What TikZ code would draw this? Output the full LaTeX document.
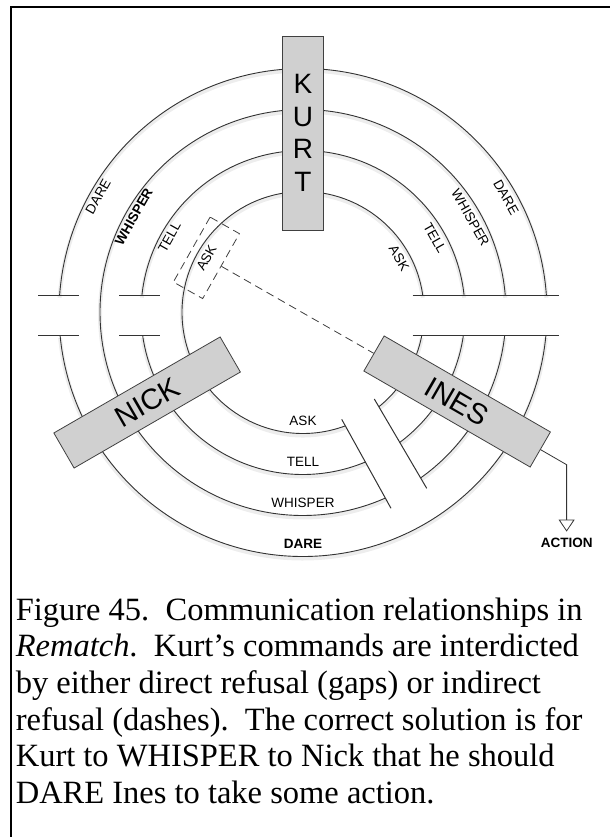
\documentclass[tikz,border=0pt]{standalone}
\usepackage{fontspec}
\setmainfont{Liberation Serif}
\setsansfont{Liberation Sans}
\usepackage{tikz}
\usetikzlibrary{calc,arrows.meta}
\definecolor{boxgray}{RGB}{208,208,208}
\tikzset{
  ring/.style={draw=black!80, line width=0.9pt, preaction={draw=black!7, line width=4pt, transform canvas={yshift=-2pt}}},
  cut/.style={draw=black!80, line width=1pt},
  lbl/.style={font=\sffamily\fontsize{13.5}{16}\selectfont, inner sep=1pt},
  lblb/.style={font=\sffamily\bfseries\fontsize{13.5}{16}\selectfont, inner sep=1pt},
  agent/.style={draw=black!75, fill=boxgray, line width=0.8pt, font=\sffamily\fontsize{29}{33}\selectfont, inner sep=0pt},
  refuse/.style={draw=black!75, line width=0.8pt, dash pattern=on 8pt off 5pt},
}
\newcommand{\gapup}{16.8}
\newcommand{\gapdn}{23.5}

\begin{document}
\begin{tikzpicture}[x=1pt,y=1pt]
    \useasboundingbox (-303,-524.5) rectangle (307,312.5);
    \draw[line width=2pt] (-292,-524.5) -- (-292,305.8) -- (307,305.8);

    \draw[ring] ({asin(\gapup/244)}:244) arc[start angle={asin(\gapup/244)}, end angle={180-asin(\gapup/244)}, radius=244];
    \draw[ring] ({180+asin(\gapdn/244)}:244) arc[start angle={180+asin(\gapdn/244)}, end angle={360-asin(\gapdn/244)}, radius=244];
    \draw[ring] ({asin(\gapup/203)}:203) arc[start angle={asin(\gapup/203)}, end angle={360-asin(\gapdn/203)}, radius=203];
    \draw[ring] ({asin(\gapup/162)}:162) arc[start angle={asin(\gapup/162)}, end angle={180-asin(\gapup/162)}, radius=162];
    \draw[ring] ({180+asin(\gapdn/162)}:162) arc[start angle={180+asin(\gapdn/162)}, end angle={360-asin(\gapdn/162)}, radius=162];
    \draw[ring] ({asin(\gapup/121)}:121) arc[start angle={asin(\gapup/121)}, end angle={360-asin(\gapdn/121)}, radius=121];

    \coordinate (cutA1) at (38.7,-106.8);
    \coordinate (cutA2) at (88,-195.8);
    \coordinate (cutB1) at (71.3,-86.5);
    \coordinate (cutB2) at (123.7,-175.8);
    \fill[white] (cutA1) -- (cutA2) -- (cutB2) -- (cutB1) -- cycle;
    \draw[cut] (cutA1) -- (cutA2);
    \draw[cut] (cutB1) -- (cutB2);

    \draw[cut] (-264.7,\gapup) -- (-224,\gapup);
    \draw[cut] (-264.7,-\gapdn) -- (-224,-\gapdn);
    \draw[cut] (-183.7,\gapup) -- (-143,\gapup);
    \draw[cut] (-183.7,-\gapdn) -- (-143,-\gapdn);
    \draw[cut] (109.7,\gapup) -- (256.3,\gapup);
    \draw[cut] (109.7,-\gapdn) -- (256.3,-\gapdn);

    \node[agent, minimum width=41pt, minimum height=194pt, align=center, font=\sffamily\fontsize{28}{32.5}\selectfont] (kurt) at (90:179.5) {K\\U\\R\\T};
    \node[agent, minimum width=192pt, minimum height=40.5pt, rotate=30] (nick) at (210:180) {NICK};
    \node[agent, minimum width=192pt, minimum height=40.5pt, rotate=-30] (ines) at (330:178) {INES};

    \node[lbl, rotate=60.5] (dareL) at (150.5:235.5) {DARE};
    \node[lblb, rotate=60.5] (whisperL) at (150.5:194.5) {WHISPER};
    \node[lbl, rotate=60.5] (tellL) at (150.5:153.5) {TELL};
    \node[lbl, refuse, minimum width=74.6pt, minimum height=33.7pt, rotate=60.5] (askL) at (150.5:111) {ASK};
    \draw[refuse] (askL.south) -- (ines.west);

    \node[lbl, rotate=-60.5] (dareR) at (29.5:233.5) {DARE};
    \node[lbl, rotate=-60.5] (whisperR) at (29.5:192.5) {WHISPER};
    \node[lbl, rotate=-60.5] (tellR) at (29.5:151.5) {TELL};
    \node[lbl, rotate=-60.5] (askR) at (29.5:110.5) {ASK};

    \node[lblb] (dareB) at (0,-231.5) {DARE};
    \node[lbl] (whisperB) at (0,-190.5) {WHISPER};
    \node[lbl] (tellB) at (0,-149.5) {TELL};
    \node[lbl] (askB) at (0,-108.5) {ASK};

    \node[lblb, inner ysep=6.7pt] (action) at (263.7,-230.8) {ACTION};
    \coordinate (bend) at ($(ines.east)+(-30:30)$);
    \draw[black!80, line width=0.8pt, -{Triangle[open, length=12pt, width=16pt]}] (ines.east) -- (bend) -- (bend |- action.north);

    \node[anchor=north west, align=left, inner sep=0pt, font=\fontsize{32.5}{36.6}\selectfont] (caption) at (-287.4,-285) {Figure 45.\ \ Communication relationships in\\
      \textit{Rematch}.\ \ Kurt's commands are interdicted\\
      by either direct refusal (gaps) or indirect\\
      refusal (dashes).\ \ The correct solution is for\\
      Kurt to WHISPER to Nick that he should\\
      DARE Ines to take some action.};
\end{tikzpicture}
\end{document}
